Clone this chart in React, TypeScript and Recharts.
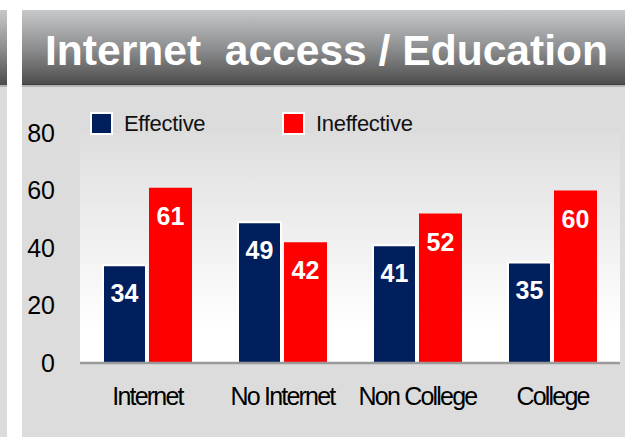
import { BarChart, Bar, XAxis, YAxis, CartesianGrid, LabelList } from "recharts";

// values
const categories = ["Internet", "No Internet", "Non College", "College"];
const effective = [34, 49, 41, 35];
const ineffective = [61, 42, 52, 60];
const yTicks = [0, 20, 40, 60, 80];
const seriesNames = ["Effective", "Ineffective"];
const seriesColors = ["#001f5c", "#ff0000"];
const title = "Internet\u00a0 access / Education";

const data = categories.map((name, i) => ({
  name,
  effective: effective[i],
  ineffective: ineffective[i],
}));

const FONT = "'Liberation Sans', Arial, sans-serif";

function ValueLabel(props: any) {
  const { x, y, width, value } = props;
  return (
    <text
      x={x + width / 2}
      y={y + 28}
      fill="#fff"
      fontSize={25}
      fontWeight="bold"
      fontFamily={FONT}
      textAnchor="middle"
      dominantBaseline="central"
    >
      {value}
    </text>
  );
}

export default function App() {
  return (
    <div
      style={{
        position: "absolute",
        left: 0,
        top: 0,
        width: 625,
        height: 437,
        background: "#fff",
        overflow: "hidden",
        fontFamily: FONT,
      }}
    >
      {/* panel frame + title bar */}
      <svg width={625} height={437} style={{ position: "absolute", left: 0, top: 0 }}>
        <defs>
          <linearGradient id="titleGrad" x1="0" y1="0" x2="0" y2="1">
            <stop offset="0%" stopColor="#c6c8ca" />
            <stop offset="50%" stopColor="#8e8f90" />
            <stop offset="100%" stopColor="#4c4c4c" />
          </linearGradient>
        </defs>
        <rect x={0} y={10} width={7} height={75} fill="url(#titleGrad)" />
        <rect x={0} y={85} width={7} height={2} fill="#b4b4b4" />
        <rect x={0} y={87} width={7} height={350} fill="#dcdcdc" />
        <rect x={22} y={10} width={603} height={75} fill="url(#titleGrad)" />
        <rect x={22} y={84} width={603} height={1} fill="#3c3c3c" />
        <rect x={22} y={85} width={603} height={2} fill="#b4b4b4" />
        <rect x={22} y={87} width={603} height={350} fill="#dcdcdc" />
        <text
          x={45}
          y={65}
          fill="#fff"
          fontSize={43}
          fontWeight="bold"
          fontFamily={FONT}
          textLength={563}
          lengthAdjust="spacingAndGlyphs"
        >
          {title}
        </text>
      </svg>

      <BarChart
        width={625}
        height={437}
        data={data}
        margin={{ top: 133, right: 5, bottom: 14, left: 0 }}
        barSize={43}
        barGap={3}
        style={{ position: "absolute", left: 0, top: 0 }}
      >
        <defs>
          <linearGradient id="plotGrad" x1="0" y1="0" x2="0" y2="1">
            <stop offset="0%" stopColor="#dedede" />
            <stop offset="10%" stopColor="#e2e2e2" />
            <stop offset="85%" stopColor="#ffffff" />
            <stop offset="100%" stopColor="#ffffff" />
          </linearGradient>
        </defs>
        <CartesianGrid horizontal={false} vertical={false} fill="url(#plotGrad)" />
        <XAxis
          dataKey="name"
          height={60}
          tickLine={false}
          tickMargin={18}
          axisLine={{ stroke: "#9a9a9a", strokeWidth: 2.5 }}
          tick={{ fill: "#000", fontSize: 25, fontFamily: FONT, letterSpacing: -1.8 }}
          interval={0}
        />
        <YAxis
          width={80}
          domain={[0, 80]}
          ticks={yTicks}
          axisLine={false}
          tickLine={false}
          tickMargin={19}
          tick={{ fill: "#000", fontSize: 25, fontFamily: FONT }}
        />
        <Bar
          dataKey="effective"
          name={seriesNames[0]}
          fill={seriesColors[0]}
          stroke="#fff"
          strokeWidth={2}
          isAnimationActive={false}
        >
          <LabelList dataKey="effective" content={ValueLabel} />
        </Bar>
        <Bar
          dataKey="ineffective"
          name={seriesNames[1]}
          fill={seriesColors[1]}
          isAnimationActive={false}
        >
          <LabelList dataKey="ineffective" content={ValueLabel} />
        </Bar>
      </BarChart>

      {/* legend */}
      <div style={{ position: "absolute", left: 90, top: 112, display: "flex" }}>
        {seriesNames.map((name, i) => (
          <div key={name} style={{ width: 192, display: "flex", alignItems: "center" }}>
            <span
              style={{
                width: 23,
                height: 23,
                boxSizing: "border-box",
                border: "2px solid #fff",
                background: seriesColors[i],
                marginRight: 11,
              }}
            />
            <span style={{ fontSize: 22, letterSpacing: -0.3, color: "#111", lineHeight: "23px" }}>
              {name}
            </span>
          </div>
        ))}
      </div>
    </div>
  );
}
